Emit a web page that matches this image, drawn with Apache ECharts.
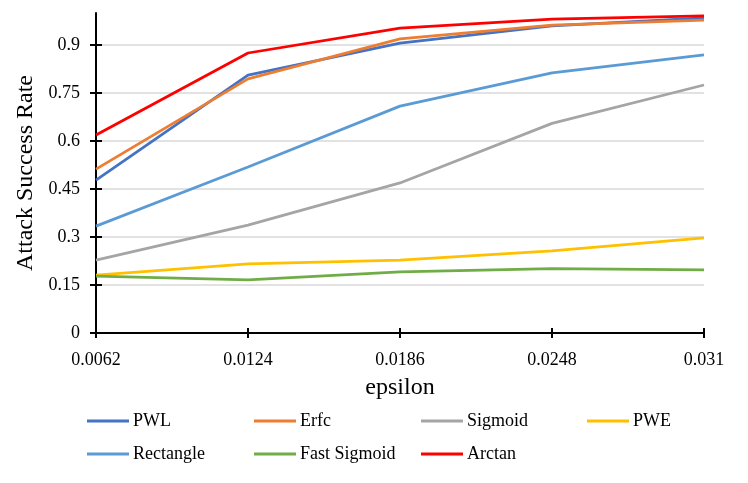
<!DOCTYPE html>
<html>
<head>
<meta charset="utf-8">
<script src="https://cdn.jsdelivr.net/npm/echarts@6/dist/echarts.min.js"></script>
<style>html,body{margin:0;padding:0;background:#fff}#c{width:748px;height:483px}</style>
</head>
<body>
<div id="c"></div>
<script>
const categories = ['0.0062', '0.0124', '0.0186', '0.0248', '0.031'];
const yTicks = [0, 0.15, 0.3, 0.45, 0.6, 0.75, 0.9];
const PWL = [0.478, 0.806, 0.906, 0.960, 0.985];
const Erfc = [0.512, 0.794, 0.919, 0.962, 0.978];
const Sigmoid = [0.228, 0.337, 0.469, 0.655, 0.775];
const PWE = [0.181, 0.216, 0.228, 0.257, 0.297];
const Rectangle = [0.334, 0.519, 0.709, 0.813, 0.869];
const FastSigmoid = [0.178, 0.166, 0.191, 0.201, 0.197];
const Arctan = [0.619, 0.875, 0.953, 0.981, 0.991];

const names = ['PWL', 'Erfc', 'Sigmoid', 'PWE', 'Rectangle', 'Fast Sigmoid', 'Arctan'];
const values = [PWL, Erfc, Sigmoid, PWE, Rectangle, FastSigmoid, Arctan];
const colors = ['#4472C4', '#ED7D31', '#A5A5A5', '#FFC000', '#5B9BD5', '#70AD47', '#FF0000'];
const legendColumns = [['PWL', 'Rectangle'], ['Erfc', 'Fast Sigmoid'], ['Sigmoid', 'Arctan'], ['PWE']];
const legendLeft = [87, 254, 421, 587];

const FONT = "'Liberation Serif', 'Times New Roman', serif";

const chart = echarts.init(document.getElementById('c'));
const option = {
  animation: false,
  color: colors,
  grid: { left: 96, right: 44, top: 13, bottom: 150, containLabel: false },
  xAxis: [{
    type: 'category', data: categories, boundaryGap: false,
    name: 'epsilon', nameLocation: 'middle', nameGap: 43,
    nameTextStyle: { fontFamily: FONT, fontSize: 24, color: '#000' },
    axisLine: { lineStyle: { color: '#000', width: 2 } },
    axisTick: { show: true, length: 5, lineStyle: { color: '#000', width: 2 } },
    axisLabel: { fontFamily: FONT, fontSize: 18, color: '#000', margin: 18 },
    splitLine: { show: false }
  }, {
    type: 'category', data: categories, boundaryGap: false, position: 'bottom',
    axisLine: { show: false },
    axisTick: { show: true, inside: true, length: 5, lineStyle: { color: '#000', width: 2 } },
    axisLabel: { show: false }, splitLine: { show: false }
  }],
  yAxis: [{
    type: 'value', min: 0, max: 1, interval: 0.15,
    name: 'Attack Success Rate', nameLocation: 'middle', nameGap: 58,
    nameTextStyle: { fontFamily: FONT, fontSize: 24, color: '#000' },
    axisLine: { show: true, lineStyle: { color: '#000', width: 2 } },
    axisTick: { show: true, length: 6, customValues: yTicks, lineStyle: { color: '#000', width: 2 } },
    axisLabel: { fontFamily: FONT, fontSize: 18, color: '#000', margin: 16, customValues: yTicks },
    splitLine: { show: true, customValues: yTicks, lineStyle: { color: '#D9D9D9', width: 1.5 } }
  }, {
    type: 'value', min: 0, max: 1, interval: 0.15, position: 'left',
    axisLine: { show: false },
    axisTick: { show: true, inside: true, length: 6, customValues: yTicks, lineStyle: { color: '#000', width: 2 } },
    axisLabel: { show: false }, splitLine: { show: false }
  }],
  legend: legendColumns.map((col, i) => ({
    data: col, orient: 'vertical', left: legendLeft[i], top: 412, padding: 0,
    icon: 'rect', itemWidth: 42, itemHeight: 3, itemGap: 15,
    textStyle: { fontFamily: FONT, fontSize: 18, color: '#000', lineHeight: 18, padding: [0, 0, 0, -1] }
  })),
  series: names.map((n, i) => ({
    name: n, type: 'line', data: values[i], symbol: 'none', showSymbol: false,
    lineStyle: { width: 2.75, color: colors[i] }, itemStyle: { color: colors[i] },
    z: 2 + i
  }))
};
chart.setOption(option);
</script>
</body>
</html>
